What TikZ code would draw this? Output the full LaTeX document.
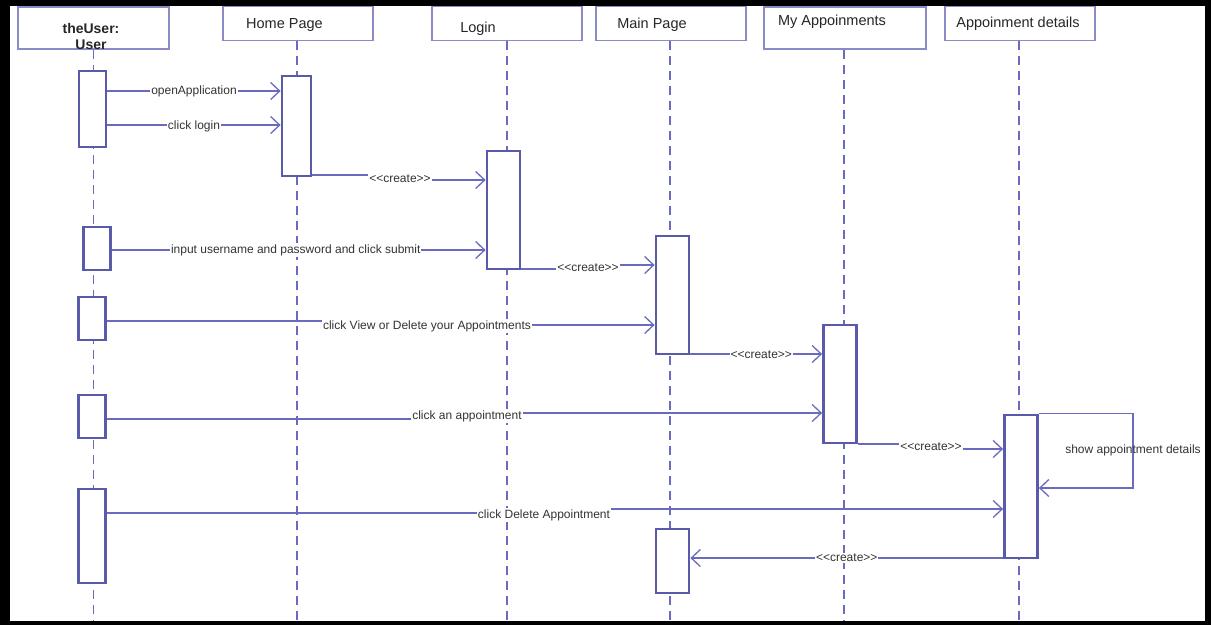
\documentclass[tikz,border=0pt]{standalone}
\usepackage{fontspec}
\newfontfamily\arialfont{Liberation Sans}
\usetikzlibrary{arrows.meta}
\definecolor{hdrcol}{HTML}{8A8AC8}
\definecolor{actcol}{HTML}{5A5AAA}
\definecolor{msgcol}{HTML}{6A6ABE}
\definecolor{txtcol}{HTML}{333333}
\tikzset{
  hdrbox/.style={draw=hdrcol, line width=1.5pt, fill=white, inner sep=0pt},
  hdrtext/.style={font=\arialfont\fontsize{14.5}{16}\selectfont, text=black!85, inner sep=0pt},
  lifeline/.style={draw=msgcol, line width=1.5pt, dash pattern=on 9pt off 6pt},
  actbox/.style={draw=actcol, line width=2.8pt, fill=white, minimum width=33pt, inner sep=0pt},
  msg/.style={draw=msgcol, line width=1.3pt, -{Straight Barb[length=9pt,width=17pt,line width=1.3pt]}},
  msglbl/.style={font=\arialfont\fontsize{12}{14}\selectfont, text=txtcol, fill=white, inner sep=1pt},
}
\begin{document}
\begin{tikzpicture}[x=1pt,y=-1pt]
\fill[black] (0,0) rectangle (1211,625);
\fill[white] (10,6) rectangle (1205,621);
\node[hdrbox, minimum width=151pt, minimum height=42pt] (hUser) at (93.5,28) {};
\node[hdrbox, minimum width=150pt, minimum height=34pt] (hHome) at (298,23.5) {};
\node[hdrbox, minimum width=150pt, minimum height=34pt] (hLogin) at (507,23.5) {};
\node[hdrbox, minimum width=150pt, minimum height=34pt] (hMain) at (671,23.5) {};
\node[hdrbox, minimum width=162pt, minimum height=42pt] (hMyApp) at (845,28) {};
\node[hdrbox, minimum width=150pt, minimum height=34pt] (hDetails) at (1020,23.5) {};
\node[hdrtext, font=\arialfont\bfseries\fontsize{14}{16}\selectfont, align=center] (tUser) at (91,36) {theUser:\\User};
\node[hdrtext] (tHome) at (284.5,25) {Home Page};
\node[hdrtext] (tLogin) at (478,29) {Login};
\node[hdrtext] (tMain) at (652,25) {Main Page};
\node[hdrtext] (tMyApp) at (832,22) {My Appoinments};
\node[hdrtext] (tDetails) at (1018,24) {Appoinment details};
\draw[lifeline] (hUser.south) -- (hUser.south |- 0,621);
\draw[lifeline] (hHome.south -| 297,0) -- (297,621);
\draw[lifeline] (hLogin.south) -- (hLogin.south |- 0,621);
\draw[lifeline] (hMain.south -| 670,0) -- (670,621);
\draw[lifeline] (hMyApp.south -| 844,0) -- (844,621);
\draw[lifeline] (hDetails.south -| 1019,0) -- (1019,621);
\node[actbox, minimum width=27pt, minimum height=76pt] (u1) at (92.5,109) {};
\node[actbox, minimum width=27pt, minimum height=43pt] (u2) at (97,248.5) {};
\node[actbox, minimum width=27pt, minimum height=43pt] (u3) at (92,318.5) {};
\node[actbox, minimum width=27pt, minimum height=43pt] (u4) at (92,416.5) {};
\node[actbox, minimum width=27pt, minimum height=94pt] (u5) at (92,536) {};
\node[actbox, minimum width=29pt, minimum height=100pt] (h1) at (296.5,126) {};
\node[actbox, minimum height=118pt] (l1) at (503.5,210) {};
\node[actbox, minimum height=118pt] (m1) at (672.5,295) {};
\node[actbox, minimum height=64pt] (m2) at (672.5,561) {};
\node[actbox, minimum height=118pt] (a1) at (840,384) {};
\node[actbox, minimum height=143pt] (d1) at (1021,486.5) {};
\draw[msg] (u1.east |- 0,91) -- node[msglbl] {openApplication} (h1.west |- 0,91);
\draw[msg] (u1.east |- 0,125) -- node[msglbl, yshift=-1pt] {click login} (h1.west |- 0,125);
\draw[msg] (h1.east |- 0,175) -- (400,175) -- node[msglbl, yshift=-1pt] {<<create>>} (400,180) -- (l1.west |- 0,180);
\draw[msg] (u2.east |- 0,250) -- node[msglbl, xshift=-3pt] {input username and password and click submit} (l1.west |- 0,250);
\draw[msg] (l1.east |- 0,269) -- (588,269) -- node[msglbl, yshift=-1pt] {<<create>>} (588,265) -- (m1.west |- 0,265);
\draw[msg] (u3.east |- 0,321) -- (427,321) -- node[msglbl, yshift=-3pt] {click View or Delete your Appointments} (427,325) -- (m1.west |- 0,325);
\draw[msg] (m1.east |- 0,354) -- node[msglbl, xshift=5pt, yshift=-1pt] {<<create>>} (a1.west |- 0,354);
\draw[msg] (u4.east |- 0,419) -- (467,419) -- node[msglbl] {click an appointment} (467,413) -- (a1.west |- 0,413);
\draw[msg] (a1.east |- 0,444) -- (931,444) -- node[msglbl] {<<create>>} (931,449) -- (d1.west |- 0,449);
\draw[msg] (d1.north east) -| node[pos=0.75, msglbl, fill=none] {show appointment details} (1133,488) -- (d1.east |- 0,488);
\draw[msg] (u5.east |- 0,513) -- (544,513) -- node[msglbl, yshift=-4pt] {click Delete Appointment} (544,509) -- (d1.west |- 0,509);
\draw[msg] (d1.west |- 0,558) -- node[msglbl] {<<create>>} (m2.east |- 0,558);
\end{tikzpicture}
\end{document}
